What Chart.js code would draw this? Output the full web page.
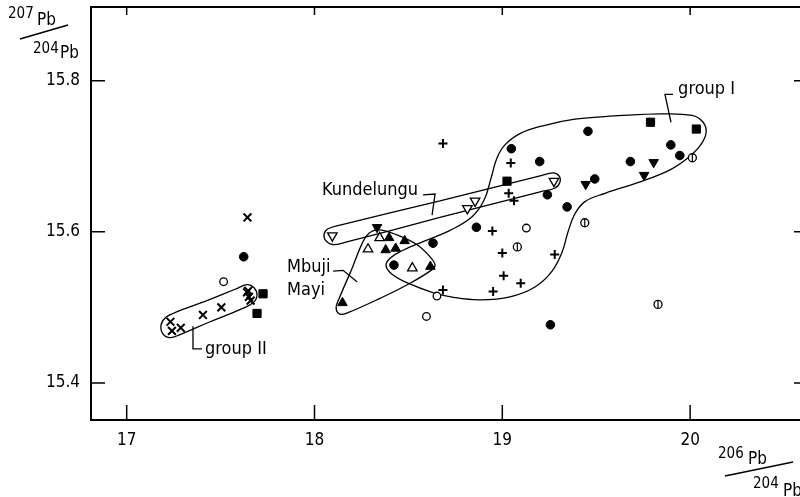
<!DOCTYPE html>
<html>
<head>
<meta charset="utf-8">
<script src="https://cdn.jsdelivr.net/npm/chart.js@4.4.0/dist/chart.umd.min.js"></script>
<style>
  html, body { margin: 0; padding: 0; background: #fff; }
  #wrap { width: 800px; height: 497px; }
</style>
</head>
<body>
<div id="wrap"><canvas id="pbChart" width="800" height="497"></canvas></div>
<script>
// axes
const xTicks = [17, 18, 19, 20];
const yTicks = [15.4, 15.6, 15.8];
const xRange = [16.81, 20.585];
const yRange = [15.351, 15.8975];

// samples as [206Pb/204Pb, 207Pb/204Pb]
const crosses = [[17.233,15.481],[17.241,15.469],[17.288,15.473],[17.406,15.490],[17.504,15.500],
  [17.641,15.520],[17.651,15.514],[17.660,15.509],[17.647,15.522],[17.643,15.619]];
const filledSquares = [[17.726,15.518],[17.694,15.492],[19.025,15.667],[19.789,15.745],[20.033,15.736]];
const filledCircles = [[17.623,15.567],[18.631,15.585],[18.423,15.556],[18.862,15.606],[19.048,15.710],
  [19.199,15.693],[19.240,15.649],[19.345,15.633],[19.456,15.733],[19.492,15.670],[19.682,15.693],
  [19.897,15.715],[19.945,15.701],[19.256,15.477]];
const openCircles = [[17.516,15.534],[18.652,15.515],[18.596,15.488],[19.128,15.605]];
const barredCircles = [[19.080,15.580],[19.439,15.612],[20.012,15.698],[19.829,15.504]];
const plusses = [[18.684,15.717],[19.045,15.691],[19.034,15.651],[19.062,15.641],[18.947,15.601],
  [19.000,15.572],[19.279,15.570],[19.007,15.542],[19.098,15.532],[18.951,15.521],[18.684,15.523]];
const filledTriangles = [[18.149,15.506],[18.397,15.592],[18.379,15.576],[18.432,15.578],[18.480,15.588],[18.617,15.554]];
const openTriangles = [[18.285,15.577],[18.347,15.592],[18.521,15.552]];
const filledDownTriangles = [[18.333,15.606],[19.444,15.663],[19.806,15.692],[19.755,15.675]];
const openDownTriangles = [[18.095,15.595],[18.814,15.631],[18.855,15.641],[19.275,15.667]];

// field outlines
const groupIIOutline = [[17.417,15.508],[17.577,15.524],[17.641,15.530],[17.678,15.526],[17.694,15.516],
  [17.673,15.506],[17.603,15.497],[17.444,15.481],[17.284,15.464],[17.231,15.460],[17.193,15.465],
  [17.183,15.477],[17.209,15.487],[17.257,15.493],[17.417,15.508]];
const kundelunguOutline = [[18.668,15.641],[19.201,15.674],[19.270,15.678],[19.302,15.674],[19.307,15.666],
  [19.281,15.658],[19.201,15.653],[18.668,15.619],[18.162,15.586],[18.099,15.583],[18.061,15.588],
  [18.051,15.597],[18.072,15.604],[18.136,15.609],[18.668,15.641]];
const mbujiMayiOutline = [[18.194,15.548],[18.258,15.587],[18.290,15.598],[18.338,15.603],[18.439,15.596],
  [18.546,15.583],[18.615,15.567],[18.642,15.556],[18.626,15.550],[18.509,15.532],[18.349,15.512],
  [18.178,15.493],[18.136,15.491],[18.115,15.499],[18.130,15.511],[18.194,15.548]];
const groupIOutline = [[19.574,15.753],[19.840,15.756],[20.010,15.754],[20.069,15.745],[20.085,15.731],
  [20.053,15.714],[19.989,15.698],[19.893,15.682],[19.733,15.666],[19.547,15.651],[19.440,15.640],
  [19.387,15.624],[19.350,15.600],[19.318,15.573],[19.265,15.548],[19.174,15.527],[19.041,15.514],
  [18.881,15.510],[18.748,15.513],[18.626,15.520],[18.498,15.532],[18.413,15.544],[18.381,15.555],
  [18.402,15.565],[18.466,15.575],[18.588,15.588],[18.722,15.602],[18.839,15.620],[18.903,15.642],
  [18.940,15.671],[18.972,15.698],[19.014,15.715],[19.094,15.730],[19.227,15.741],[19.387,15.749],
  [19.574,15.753]];

// leader lines from the labels
const groupILeader = [[19.909,15.782],[19.866,15.782],[19.898,15.745]];
const groupIILeader = [[17.353,15.475],[17.353,15.445],[17.401,15.445]];
const kundelunguLeader = [[18.578,15.649],[18.642,15.650],[18.626,15.622]];
const mbujiLeader = [[18.099,15.548],[18.152,15.549],[18.226,15.534]];

// field labels: text, x, y (left edge, middle)
const fieldLabels = [
  ['group I', 19.936, 15.788],
  ['group II', 17.417, 15.445],
  ['Kundelungu', 18.040, 15.655],
  ['Mbuji', 17.854, 15.553],
  ['Mayi', 17.854, 15.523]
];

const FONT = '"DejaVu Sans Condensed", "Liberation Sans Narrow", "DejaVu Sans", sans-serif';

function markers(data, style, opts) {
  return Object.assign({
    data, showLine: false, pointStyle: style, pointRadius: 4,
    pointBackgroundColor: '#000', pointBorderColor: '#000', pointBorderWidth: 1
  }, opts || {});
}

function curve(data, tension) {
  return {
    data, showLine: true, tension, borderColor: '#000', borderWidth: 1.3,
    pointRadius: 0, fill: false
  };
}

// no extra room for overflowing labels, the frame is fixed
function fixBox(s, key, size) {
  s[key] = size;
  s.paddingTop = 0; s.paddingBottom = 0; s.paddingLeft = 0; s.paddingRight = 0;
}

const framePlugin = {
  id: 'frame',
  afterDraw(chart) {
    const { ctx, chartArea: a, scales: { x, y } } = chart;
    ctx.save();
    ctx.strokeStyle = '#000';
    ctx.lineWidth = 2;
    ctx.beginPath();
    ctx.moveTo(a.right, a.top); ctx.lineTo(a.left, a.top);
    ctx.lineTo(a.left, a.bottom); ctx.lineTo(a.right, a.bottom);
    ctx.stroke();

    ctx.lineWidth = 1.5;
    ctx.beginPath();
    xTicks.forEach(v => {
      const px = x.getPixelForValue(v);
      ctx.moveTo(px, a.bottom); ctx.lineTo(px, a.bottom - 15);
      ctx.moveTo(px, a.top); ctx.lineTo(px, a.top + 8);
    });
    yTicks.forEach(v => {
      const py = y.getPixelForValue(v);
      ctx.moveTo(a.left, py); ctx.lineTo(a.left + 14, py);
      ctx.moveTo(a.right, py); ctx.lineTo(a.right - 6, py);
    });
    ctx.stroke();

    // field labels
    ctx.fillStyle = '#000';
    ctx.font = '18px ' + FONT;
    ctx.textBaseline = 'middle';
    ctx.textAlign = 'left';
    fieldLabels.forEach(([t, vx, vy]) => {
      ctx.fillText(t, x.getPixelForValue(vx), y.getPixelForValue(vy));
    });

    // axis titles (isotope ratios)
    ctx.textBaseline = 'alphabetic';
    ctx.font = '15px ' + FONT;
    ctx.fillText('207', 8, 18);
    ctx.fillText('204', 33, 53);
    ctx.fillText('206', 718, 458);
    ctx.fillText('204', 753, 488);
    ctx.font = '17px ' + FONT;
    ctx.fillText('Pb', 37, 25);
    ctx.fillText('Pb', 60, 58);
    ctx.fillText('Pb', 748, 464);
    ctx.fillText('Pb', 783, 496);
    ctx.lineWidth = 1.5;
    ctx.beginPath();
    ctx.moveTo(20, 39); ctx.lineTo(68, 25);
    ctx.moveTo(725, 476); ctx.lineTo(793, 462);
    ctx.stroke();
    ctx.restore();
  }
};

const tickFont = { family: FONT, size: 17 };

new Chart(document.getElementById('pbChart'), {
  type: 'scatter',
  data: {
    datasets: [
      markers(barredCircles, 'line', { pointRotation: 90, pointRadius: 4, pointBorderWidth: 1.2 }),
      markers(barredCircles, 'circle', { pointRadius: 4, pointBackgroundColor: '#fff', pointBorderWidth: 1.3 }),
      markers(crosses, 'crossRot', { pointRadius: 5.5, pointBorderWidth: 2 }),
      markers(plusses, 'cross', { pointRadius: 4.5, pointBorderWidth: 2 }),
      markers(filledCircles, 'circle', { pointRadius: 4.3 }),
      markers(openCircles, 'circle', { pointRadius: 3.8, pointBackgroundColor: '#fff', pointBorderWidth: 1.3 }),
      markers(filledSquares, 'rect', { pointRadius: 5.8 }),
      markers(filledTriangles, 'triangle', { pointRadius: 5.5 }),
      markers(openTriangles, 'triangle', { pointRadius: 5.5, pointBackgroundColor: '#fff', pointBorderWidth: 1.3 }),
      markers(filledDownTriangles, 'triangle', { pointRadius: 5.5, pointRotation: 180 }),
      markers(openDownTriangles, 'triangle', { pointRadius: 5.5, pointRotation: 180, pointBackgroundColor: '#fff', pointBorderWidth: 1.3 }),
      curve(groupILeader, 0),
      curve(groupIILeader, 0),
      curve(kundelunguLeader, 0),
      curve(mbujiLeader, 0),
      curve(groupIOutline, 0.4),
      curve(groupIIOutline, 0.4),
      curve(kundelunguOutline, 0.4),
      curve(mbujiMayiOutline, 0.4)
    ]
  },
  options: {
    responsive: false,
    animation: false,
    events: [],
    layout: { autoPadding: false, padding: { top: 7, right: 0, left: 0, bottom: 0 } },
    plugins: { legend: { display: false }, tooltip: { enabled: false } },
    scales: {
      x: {
        type: 'linear', min: xRange[0], max: xRange[1],
        grid: { display: false, drawTicks: false },
        border: { display: false },
        ticks: { font: tickFont, color: '#000', padding: 10, callback: v => String(v) },
        afterBuildTicks: s => { s.ticks = xTicks.map(v => ({ value: v })); },
        afterFit: s => fixBox(s, 'height', 77)
      },
      y: {
        type: 'linear', min: yRange[0], max: yRange[1],
        grid: { display: false, drawTicks: false },
        border: { display: false },
        ticks: { font: tickFont, color: '#000', padding: 11, callback: v => v.toFixed(1) },
        afterBuildTicks: s => { s.ticks = yTicks.map(v => ({ value: v })); },
        afterFit: s => fixBox(s, 'width', 91)
      }
    }
  },
  plugins: [framePlugin]
});
</script>
</body>
</html>
